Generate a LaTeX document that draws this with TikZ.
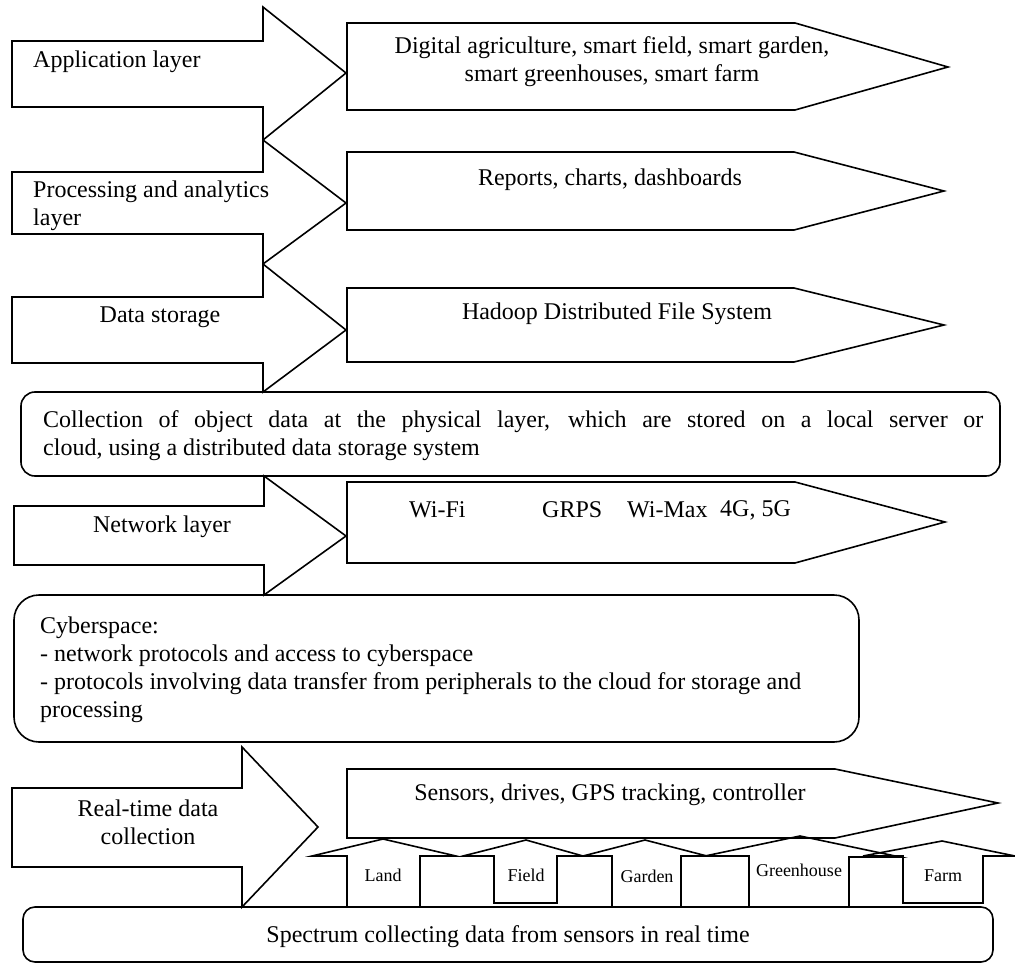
\documentclass[tikz,border=0pt]{standalone}
\usepackage{fontspec}
\setmainfont{Liberation Serif}
\begin{document}
\begin{tikzpicture}[x=1pt,y=-1pt,
  shp/.style={draw=black,line width=1.6pt,line join=miter},
  txt/.style={inner sep=0pt,font=\fontsize{24}{28}\selectfont},
  small/.style={inner sep=0pt,font=\fontsize{18}{21}\selectfont}]
\useasboundingbox[fill=white] (0,0) rectangle (1015,966);
% left block arrows
\draw[shp] (12,41) -- (263,41) -- (263,7) -- (346,73) -- (263,140) -- (263,107) -- (12,107) -- cycle;
\draw[shp] (12,172) -- (263,172) -- (263,140) -- (346,203) -- (263,264) -- (263,234) -- (12,234) -- cycle;
\draw[shp] (12,297) -- (263,297) -- (263,264) -- (346,330) -- (263,392) -- (263,363) -- (12,363) -- cycle;
\draw[shp] (14,506) -- (264,506) -- (264,476) -- (346,536) -- (264,595) -- (264,565) -- (14,565) -- cycle;
\draw[shp] (12,788) -- (242,788) -- (242,747) -- (318,827) -- (242,907) -- (242,867) -- (12,867) -- cycle;
% right pentagons
\draw[shp] (347,23) -- (795,23) -- (948,67) -- (795,110) -- (347,110) -- cycle;
\draw[shp] (347,152) -- (794,152) -- (944,191) -- (794,230) -- (347,230) -- cycle;
\draw[shp] (347,288) -- (794,288) -- (944,325) -- (794,362) -- (347,362) -- cycle;
\draw[shp] (347,482) -- (795,482) -- (945,522) -- (795,563) -- (347,563) -- cycle;
\draw[shp] (347,769) -- (835,769) -- (998,803) -- (835,838) -- (347,838) -- cycle;
% rounded boxes
\draw[shp,rounded corners=14pt] (21,392) rectangle (1000,476);
\draw[shp,rounded corners=25pt] (14,595) rectangle (859,742);
\draw[shp,rounded corners=12pt] (23,907) rectangle (993,962);
% up arrows
\draw[shp] (347,907) -- (347,856) -- (312,856) -- (383,839) -- (456,856) -- (420,856) -- (420,907);
\draw[shp] (494,856) -- (463,856) -- (526,840) -- (583,856) -- (557,856) -- (557,903) -- (494,903) -- cycle;
\draw[shp] (612,907) -- (612,856) -- (583,856) -- (645,840) -- (707,856) -- (681,856) -- (681,907);
\draw[shp] (749,907) -- (749,856) -- (705,856) -- (800,836) -- (900,857) -- (849,857) -- (849,907);
\draw[shp] (903,856) -- (863,856) -- (942,841) -- (1015,856) -- (983,856) -- (983,903) -- (903,903) -- cycle;
% texts left
\node[txt,anchor=west] (tApp) at (33,62) {Application layer};
\node[txt,anchor=west,align=left] (tProc) at (33,206) {Processing and analytics\\layer};
\node[txt] (tData) at (160,317) {Data storage};
\node[txt] (tNet) at (162,527) {Network layer};
\node[txt,align=center] (tReal) at (148,822) {Real-time data\\collection};
% texts right
\node[txt,align=center] (tDig) at (612,62) {Digital agriculture, smart field, smart garden,\\smart greenhouses, smart farm};
\node[txt] (tRep) at (610,180) {Reports, charts, dashboards};
\node[txt] (tHad) at (617,314) {Hadoop Distributed File System};
\node[txt,anchor=west] (tWifi) at (409,510) {Wi-Fi};
\node[txt,anchor=west] (tGrps) at (542,510) {GRPS};
\node[txt,anchor=west] (tWimax) at (627,510) {Wi-Max};
\node[txt,anchor=west] (t4g) at (720,510) {4G, 5G};
\node[txt] (tSens) at (610,795) {Sensors, drives, GPS tracking, controller};
% rounded-box texts
\node[txt,anchor=west,align=left] (tColl) at (43,436) {\makebox[940pt][s]{Collection of object data at the physical layer, which are stored on a local server or}\\cloud, using a distributed data storage system};
\node[txt,anchor=west,align=left] (tCyb) at (40,670) {Cyberspace:\\- network protocols and access to cyberspace\\- protocols involving data transfer from peripherals to the cloud for storage and\\processing};
\node[txt] (tSpec) at (508,937) {Spectrum collecting data from sensors in real time};
% up-arrow labels
\node[small] (lLand) at (383,875) {Land};
\node[small] (lField) at (526,875) {Field};
\node[small] (lGarden) at (647,876) {Garden};
\node[small] (lGreen) at (799,870) {Greenhouse};
\node[small] (lFarm) at (943,876) {Farm};
\end{tikzpicture}
\end{document}
